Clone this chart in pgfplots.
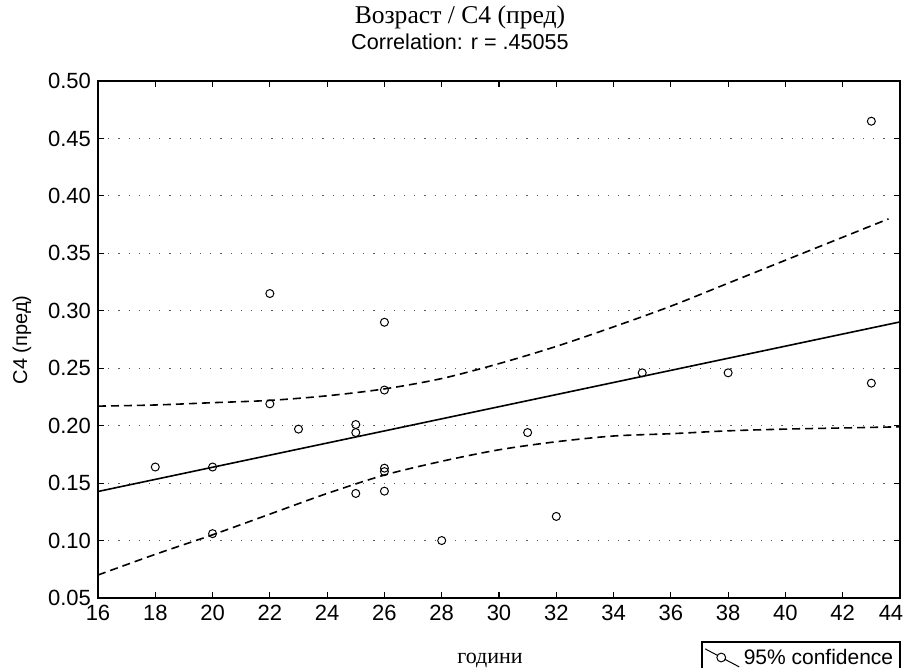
\documentclass[border=0pt]{standalone}
\usepackage{fontspec}
\setmainfont{Liberation Sans}
\newfontfamily\serifcyr{Liberation Serif}
\usepackage{pgfplots}
\pgfplotsset{compat=1.18}

% age (years) vs C4
\pgfplotstableread{
x y
18 0.164
20 0.164
20 0.106
22 0.315
22 0.219
23 0.197
25 0.201
25 0.194
25 0.141
26 0.290
26 0.231
26 0.163
26 0.160
26 0.143
28 0.100
31 0.194
32 0.121
35 0.246
38 0.246
43 0.465
43 0.237
}\pointsdata

\begin{document}
\begin{tikzpicture}
\useasboundingbox (-49pt,-35pt) rectangle (404pt,299pt);
\begin{axis}[
    anchor=south west, at={(0,0)},
    scale only axis, width=401pt, height=258.5pt,
    xmin=16, xmax=44, ymin=0.05, ymax=0.5,
    xtick={16,18,20,22,24,26,28,30,32,34,36,38,40,42,44},
    xticklabels={16,18,20,22,24,26,28,30,32,34,36,38,40,42,{\hspace*{-9pt}44}},
    ytick={0.05,0.10,0.15,0.20,0.25,0.30,0.35,0.40,0.45,0.50},
    yticklabel style={/pgf/number format/.cd, fixed, fixed zerofill, precision=2},
    /pgf/number format/assume math mode=true,
    tick align=inside, xtick pos=both, ytick pos=both,
    major tick length=3pt,
    tick style={black, line width=0.6pt},
    axis line style={black, line width=0.9pt},
    ymajorgrids,
    grid style={black!65, line width=0.5pt, dash pattern=on 0.6pt off 4.5pt},
    ticklabel style={font=\fontsize{11}{13}\selectfont},
    legend style={at={(axis description cs:1,0)}, anchor=north east,
        xshift=0.5pt, yshift=-21.5pt, draw=black, line width=0.8pt,
        font=\fontsize{10.5}{13}\selectfont, inner sep=1.5pt,
        legend cell align=left},
]
\addlegendimage{legend image code/.code={
    \draw[black, line width=0.5pt] (0pt,4.5pt) -- (17pt,-4.5pt);
    \draw[black, fill=white, line width=0.5pt] (8pt,0.2pt) circle (2.2pt);}}
\addlegendentry{95\% confidence}

\addplot[only marks, mark=o, mark size=2pt, black, mark options={line width=0.5pt}]
    table[x=x, y=y] {\pointsdata};

% regression line
\addplot[black, line width=0.8pt] coordinates {(16,0.1427) (44,0.2903)};

% 95% confidence bands
\addplot[black, line width=0.8pt, dash pattern=on 4pt off 2.5pt, smooth] coordinates {
    (16,0.217) (18,0.218) (20,0.220) (22,0.222) (24,0.226) (26,0.232)
    (28,0.241) (30,0.254) (32,0.269) (34,0.286) (36,0.304) (38,0.324)
    (40,0.344) (42,0.364) (43.6,0.380)
};
\addplot[black, line width=0.8pt, dash pattern=on 4pt off 2.5pt, smooth] coordinates {
    (16,0.070) (18,0.088) (20,0.105) (22,0.123) (24,0.141) (26,0.157)
    (28,0.169) (30,0.179) (32,0.186) (34,0.191) (36,0.193) (38,0.1955)
    (40,0.197) (42,0.198) (44,0.199)
};
\end{axis}

\node[anchor=base, font=\serifcyr\fontsize{12.8}{15}\selectfont] at (181pt,287pt) {Возраст / C4 (пред)};
\node[anchor=base, font=\fontsize{10.8}{13}\selectfont] at (181pt,274pt) {Correlation: r = .45055};
\node[rotate=90, font=\fontsize{10}{12}\selectfont] at (-38pt,129pt) {C4 (пред)};
\node[anchor=base, font=\serifcyr\fontsize{11}{13}\selectfont] at (196pt,-33pt) {години};
\end{tikzpicture}
\end{document}
